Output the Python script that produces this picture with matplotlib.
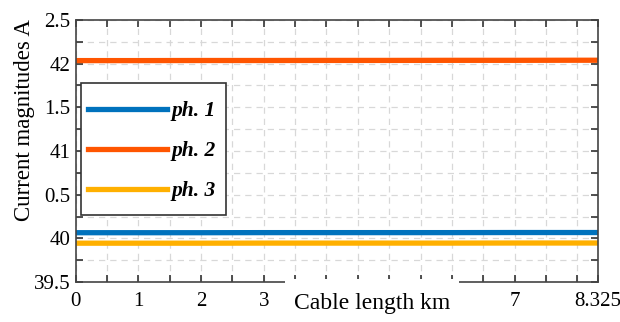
import numpy as np
import matplotlib.pyplot as plt
from matplotlib.patches import Rectangle

# cable length (km) and current magnitudes (A)
cable_km = [0, 1, 2, 3, 4, 5, 6, 7, 8, 8.325]
ph1 = [40.065, 40.065, 40.065, 40.066, 40.066, 40.066, 40.066, 40.067, 40.067, 40.067]
ph2 = [42.035, 42.035, 42.036, 42.036, 42.037, 42.037, 42.038, 42.038, 42.039, 42.039]
ph3 = [39.945, 39.945, 39.945, 39.946, 39.946, 39.946, 39.946, 39.947, 39.947, 39.947]

x_ticks = [0, 0.5, 1, 1.5, 2, 2.5, 3, 3.5, 4, 4.5, 5, 5.5, 6, 6.5, 7, 7.5, 8, 8.325]
x_labels = ["0", "", "1", "", "2", "", "3", "", "", "", "", "", "", "", "7", "", "", "8.325"]
y_ticks = [39.5, 39.75, 40, 40.25, 40.5, 40.75, 41, 41.25, 41.5, 41.75, 42, 42.25, 42.5]
y_labels = ["39.5", "", "40", "", "0.5", "", "41", "", "1.5", "", "42", "", "2.5"]

plt.rcParams["font.family"] = "Liberation Serif"

fig = plt.figure(figsize=(6.2, 3.22), dpi=100)
ax = fig.add_axes([0.122, 0.124, 0.842, 0.814])

ax.plot(cable_km, ph1, color="#0072BD", lw=3.8, label="ph. 1")
ax.plot(cable_km, ph2, color="#FF5500", lw=3.8, label="ph. 2")
ax.plot(cable_km, ph3, color="#FFB000", lw=3.8, label="ph. 3")

ax.set_xlim(0, 8.325)
ax.set_ylim(39.5, 42.5)
ax.set_xticks(x_ticks)
ax.set_xticklabels(x_labels)
ax.set_yticks(y_ticks)
ax.set_yticklabels(y_labels)
ax.tick_params(direction="in", length=5, width=1.2, color="#333333",
               labelsize=15, top=True, right=True, pad=4)
ax.tick_params(axis="x", pad=7)
ax.grid(True, linestyle=(0, (5, 4)), color="#d8d8d8", lw=0.9)
for s in ax.spines.values():
    s.set_color("#444444")
    s.set_linewidth(1.2)

ax.set_ylabel("Current magnitudes A", fontsize=16.5)
ax.yaxis.set_label_coords(-0.077, 0.618)

# legend frame drawn by hand so the padding can differ per side
ax.add_patch(Rectangle((0.0096, 0.2557), 0.2778, 0.505, transform=ax.transAxes,
                       facecolor="white", edgecolor="#333333", lw=1.2, zorder=4))
leg = ax.legend(loc="upper left", bbox_to_anchor=(0.0236, 0.69), borderaxespad=0,
                frameon=False, borderpad=0,
                prop={"family": "Liberation Serif", "weight": "bold", "style": "italic", "size": 15.5},
                handlelength=3.67, handletextpad=0.19, labelspacing=0.92)
leg.set_zorder(5)
for h in leg.get_lines():
    h.set_linewidth(3.8)

# white box hiding the middle of the x axis, with the axis label on it
fig.patches.append(Rectangle((285 / 620, 0), (459 - 285) / 620, 43 / 322,
                             transform=fig.transFigure, facecolor="white",
                             edgecolor="none", zorder=5))
fig.text(372 / 620, 1 - 304 / 322, "Cable length km", fontsize=17,
         ha="center", va="center", zorder=6)

fig.savefig("out.png", dpi=100)
